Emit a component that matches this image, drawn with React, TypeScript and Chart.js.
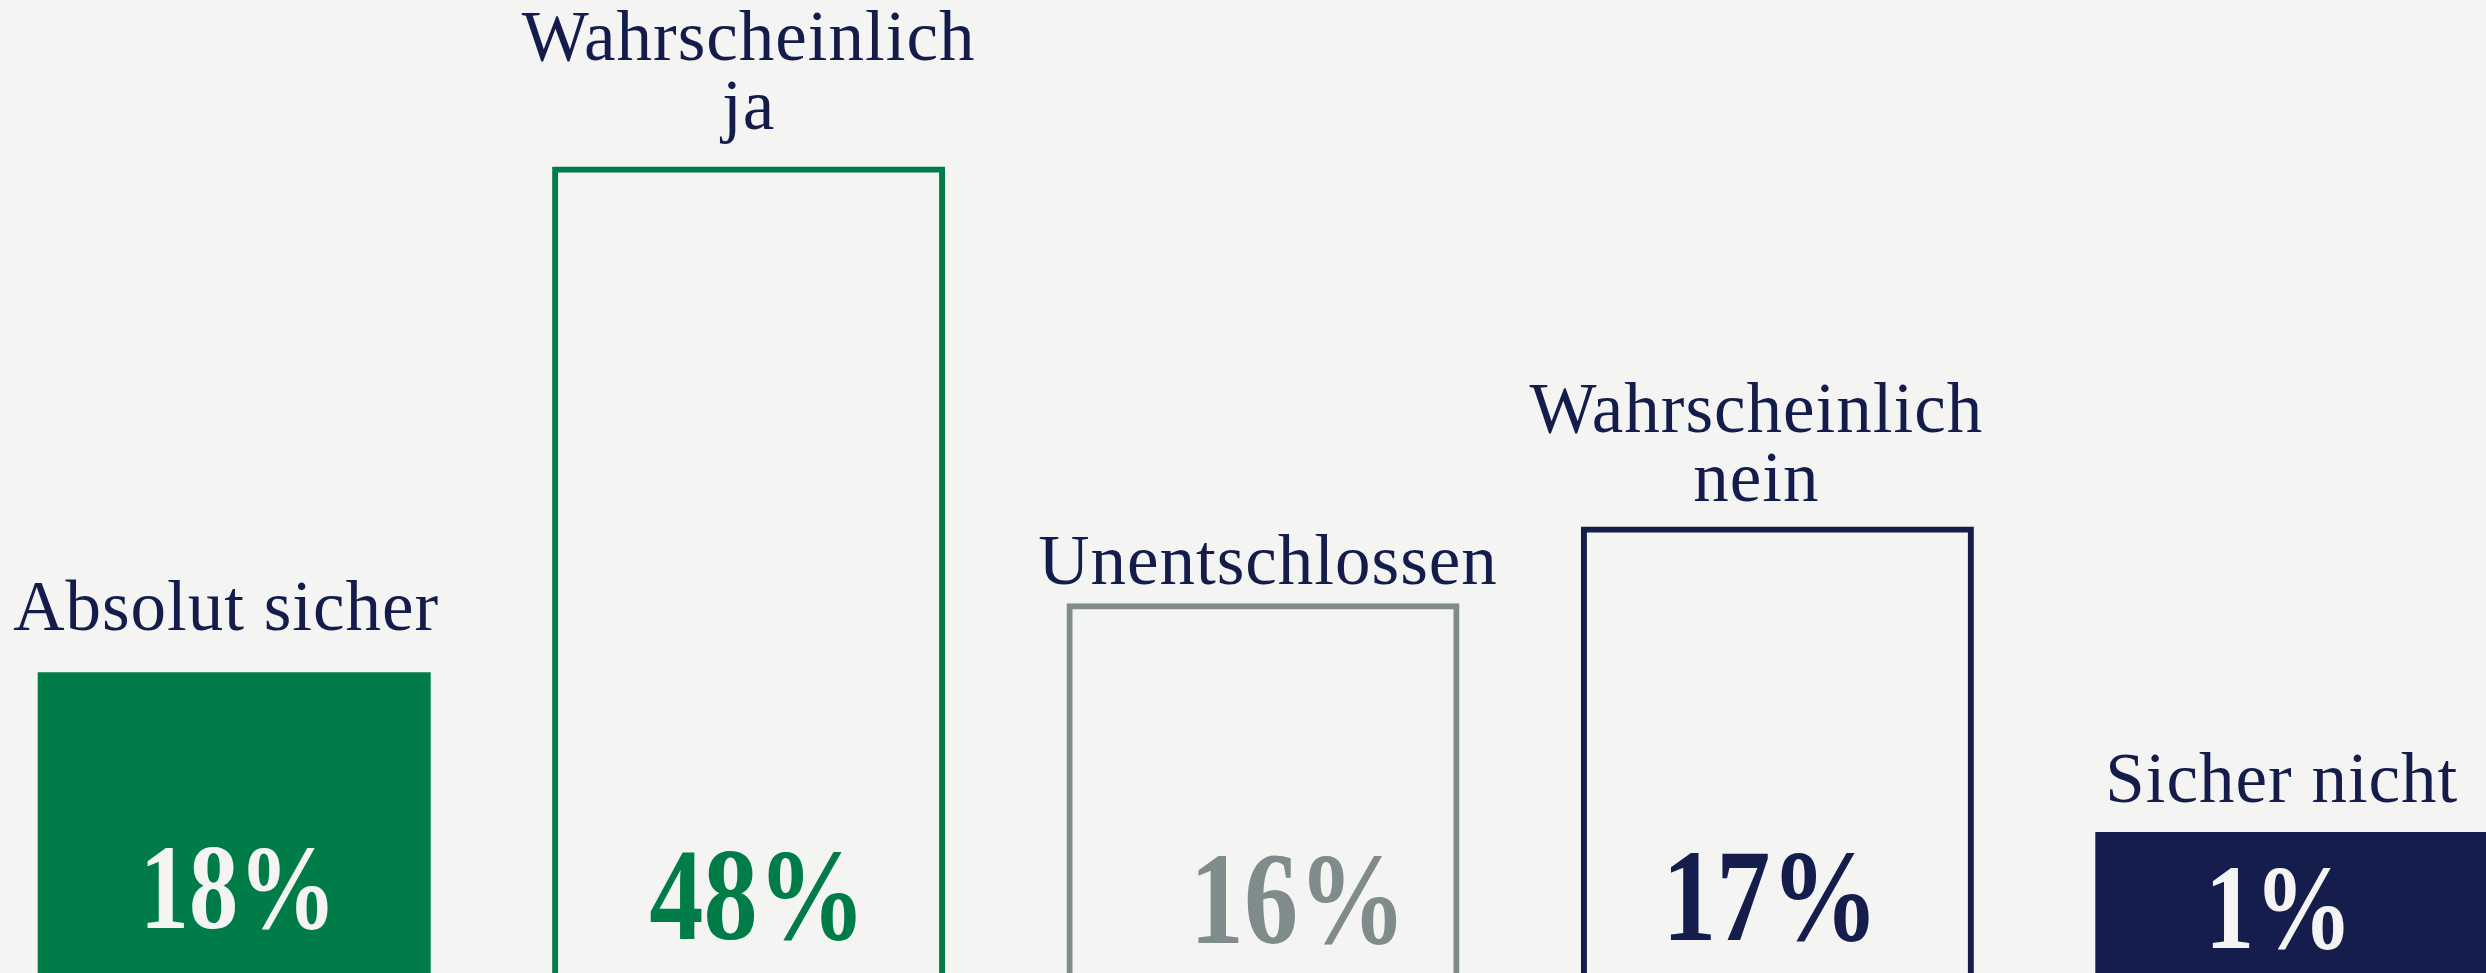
import React, { useEffect, useRef } from "react";
import { Chart, registerables } from "chart.js";

Chart.register(...registerables);

// ---- Data ----
const categories: string[][] = [
  ["Absolut sicher"],
  ["Wahrscheinlich", "ja"],
  ["Unentschlossen"],
  ["Wahrscheinlich", "nein"],
  ["Sicher nicht"],
];
const percentages: number[] = [18, 48, 16, 17, 1];
// visual bar heights as drawn in the picture (share of visible chart height, 0-100)
const barHeights: number[] = [30.9, 82.9, 38.0, 45.9, 14.5];
const filledBars: boolean[] = [true, false, false, false, true];

// ---- Styling ----
const BG = "#f4f4f2";
const GREEN = "#007c48";
const NAVY = "#151d4c";
const GRAY = "#808c8c";
const LABEL_COLOR = "#141c4b";
const barColors = [GREEN, GREEN, GRAY, NAVY, NAVY];

const CANVAS_W = 2572;
const CANVAS_H = 973;
const CANVAS_LEFT = -23;
const LINE_HEIGHT = 69;
// small layout nudges of the text, as set in the original design
const LABEL_GAPS = [42, 37, 19, 25, 30];
const LABEL_DX = [-8, 0, 5, -21, -10];
const PCT_DX = [4, 9, 35, -7, -13];
const PCT_BOTTOM_GAP = [45, 34, 30, 33, 25];

const labelPlugin = {
  id: "barLabels",
  afterDatasetsDraw(chart: any) {
    const ctx: CanvasRenderingContext2D = chart.ctx;
    const meta = chart.getDatasetMeta(0);
    const bottom = chart.chartArea.bottom;
    meta.data.forEach((bar: any, i: number) => {
      const { x, y } = bar.getProps(["x", "y"], true);
      ctx.save();
      ctx.fillStyle = LABEL_COLOR;
      ctx.font = '71px "Liberation Serif", serif';
      (ctx as any).letterSpacing = "1px";
      ctx.textAlign = "center";
      ctx.textBaseline = "alphabetic";
      const lines = categories[i];
      lines.forEach((line, j) => {
        const by = y - LABEL_GAPS[i] - (lines.length - 1 - j) * LINE_HEIGHT;
        ctx.fillText(line, x + LABEL_DX[i], by);
      });
      ctx.restore();

      ctx.save();
      (ctx as any).letterSpacing = "0px";
      const size = filledBars[i] ? 120 : 132;
      ctx.font = `bold ${size}px "Liberation Serif", serif`;
      ctx.fillStyle = filledBars[i] ? BG : barColors[i];
      ctx.textAlign = "center";
      ctx.textBaseline = "alphabetic";
      ctx.translate(x + PCT_DX[i], bottom - PCT_BOTTOM_GAP[i]);
      ctx.scale(0.82, 1);
      ctx.fillText(`${percentages[i]}%`, 0, 0);
      ctx.restore();
    });
  },
};

export default function App() {
  const canvasRef = useRef<HTMLCanvasElement | null>(null);

  useEffect(() => {
    if (!canvasRef.current) return;
    const chart = new Chart(canvasRef.current, {
      type: "bar",
      data: {
        labels: categories.map((c) => c.join(" ")),
        datasets: [
          {
            data: barHeights,
            backgroundColor: barColors.map((c, i) => (filledBars[i] ? c : "rgba(0,0,0,0)")),
            borderColor: barColors,
            borderWidth: filledBars.map((f) => (f ? 0 : 6)),
            borderSkipped: "start",
            barPercentage: 0.764,
            categoryPercentage: 1,
          },
        ],
      },
      options: {
        animation: false,
        responsive: false,
        devicePixelRatio: 1,
        layout: { padding: 0 },
        plugins: {
          legend: { display: false },
          tooltip: { enabled: false },
          title: { display: false },
        },
        scales: {
          x: { display: false, offset: true, grid: { display: false } },
          y: { display: false, min: 0, max: 100, grid: { display: false } },
        },
      },
      plugins: [labelPlugin],
    });
    return () => chart.destroy();
  }, []);

  return (
    <div
      style={{
        position: "fixed",
        left: 0,
        top: 0,
        width: "100vw",
        height: "100vh",
        overflow: "hidden",
        background: BG,
      }}
    >
      <canvas
        ref={canvasRef}
        width={CANVAS_W}
        height={CANVAS_H}
        style={{
          position: "absolute",
          left: CANVAS_LEFT,
          top: 0,
          width: CANVAS_W,
          height: CANVAS_H,
        }}
      />
    </div>
  );
}
